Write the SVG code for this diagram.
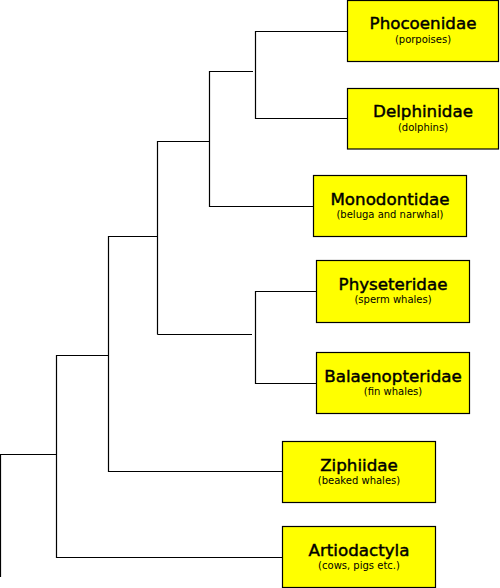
<svg xmlns="http://www.w3.org/2000/svg" width="500" height="588" viewBox="0 0 500 588">
<style>
.box{fill:#ffff00;stroke:#000;stroke-width:1.2}
.t{font-family:"DejaVu Sans",sans-serif;font-size:16.7px;text-anchor:middle;fill:#000;stroke:#000;stroke-width:0.45}
.s{font-family:"DejaVu Sans",sans-serif;font-size:10px;text-anchor:middle;fill:#000}
.c{fill:none;stroke:#000;stroke-width:1.2}
</style>
<rect width="500" height="588" fill="#fff"/>
<g id="connectors">
<polyline class="c" points="347,31.5 255.5,31.5 255.5,118.5 347,118.5"/>
<polyline class="c" points="253,71.5 209.5,71.5 209.5,206.5 313,206.5"/>
<polyline class="c" points="157.5,334.5 157.5,141.5 209.5,141.5"/>
<polyline class="c" points="157.5,334.5 252,334.5"/>
<polyline class="c" points="316,291.5 255.5,291.5 255.5,383.5 316,383.5"/>
<polyline class="c" points="157.5,236.5 108.5,236.5 108.5,471.5 282,471.5"/>
<polyline class="c" points="108.5,355.5 56.5,355.5 56.5,557.5 282,557.5"/>
<polyline class="c" points="0.5,577 0.5,454.5 56.5,454.5"/>
</g>
<g id="phocoenidae">
<rect class="box" x="347.5" y="0.5" width="151" height="61"/>
<text class="t" x="423" y="29">Phocoenidae</text>
<text class="s" x="423" y="42.5">(porpoises)</text>
</g>
<g id="delphinidae">
<rect class="box" x="347.5" y="88.5" width="151" height="60.5"/>
<text class="t" x="423" y="117">Delphinidae</text>
<text class="s" x="423" y="130.5">(dolphins)</text>
</g>
<g id="monodontidae">
<rect class="box" x="313.5" y="175.5" width="153" height="61"/>
<text class="t" x="390" y="204.5">Monodontidae</text>
<text class="s" x="390" y="218">(beluga and narwhal)</text>
</g>
<g id="physeteridae">
<rect class="box" x="316.5" y="260.5" width="153" height="62"/>
<text class="t" x="393" y="289.5">Physeteridae</text>
<text class="s" x="393" y="303">(sperm whales)</text>
</g>
<g id="balaenopteridae">
<rect class="box" x="316.5" y="352.5" width="153" height="61"/>
<text class="t" x="393" y="381.5">Balaenopteridae</text>
<text class="s" x="393" y="395">(fin whales)</text>
</g>
<g id="ziphiidae">
<rect class="box" x="282.5" y="441.5" width="153" height="61"/>
<text class="t" x="359" y="470.5">Ziphiidae</text>
<text class="s" x="359" y="484">(beaked whales)</text>
</g>
<g id="artiodactyla">
<rect class="box" x="282.5" y="526.5" width="153" height="61"/>
<text class="t" x="359" y="555.5">Artiodactyla</text>
<text class="s" x="359" y="569">(cows, pigs etc.)</text>
</g>
</svg>
